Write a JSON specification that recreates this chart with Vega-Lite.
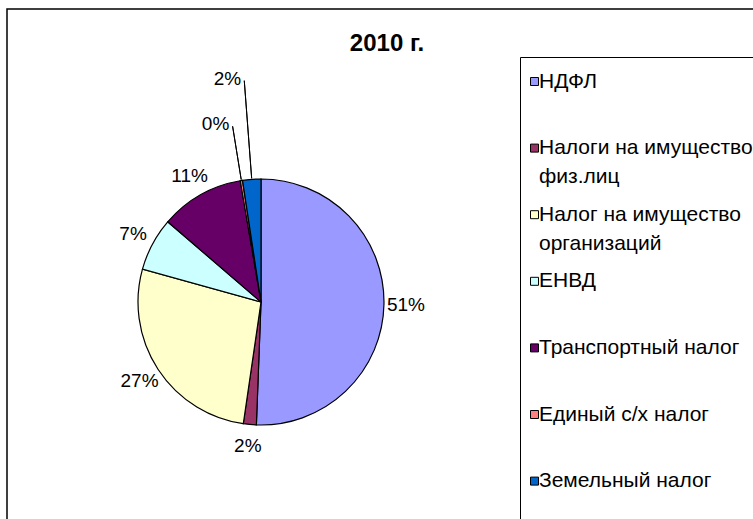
{
  "$schema": "https://vega.github.io/schema/vega-lite/v6.json",
  "width": 750,
  "height": 514,
  "autosize": {"type": "none"},
  "padding": {"left": 7, "top": 9, "right": -4, "bottom": -4},
  "background": "white",
  "view": {"stroke": "black", "strokeWidth": 1.5, "fill": "white"},
  "config": {
    "font": "Liberation Sans"
  },
  "title": {
    "text": "2010 г.",
    "font": "Liberation Sans",
    "fontSize": 24,
    "fontWeight": "bold",
    "color": "black",
    "anchor": "middle",
    "frame": "group",
    "dx": 5,
    "offset": 6,
    "dy": 53
  },
  "data": {
    "values": [
      {"n": 1, "tax": "НДФЛ", "share": 0.506},
      {"n": 2, "tax": "Налоги на имущество физ.лиц", "share": 0.017},
      {"n": 3, "tax": "Налог на имущество организаций", "share": 0.270},
      {"n": 4, "tax": "ЕНВД", "share": 0.070},
      {"n": 5, "tax": "Транспортный налог", "share": 0.110},
      {"n": 6, "tax": "Единый с/х налог", "share": 0.003},
      {"n": 7, "tax": "Земельный налог", "share": 0.024}
    ]
  },
  "encoding": {
    "theta": {"field": "share", "type": "quantitative", "stack": true},
    "order": {"field": "n", "type": "quantitative"}
  },
  "layer": [
    {
      "mark": {"type": "arc", "radius": 123, "x": 254, "y": 293, "stroke": "black", "strokeWidth": 1.2},
      "encoding": {
        "color": {
          "field": "tax",
          "type": "nominal",
          "scale": {
            "domain": ["НДФЛ", "Налоги на имущество физ.лиц", "Налог на имущество организаций", "ЕНВД", "Транспортный налог", "Единый с/х налог", "Земельный налог"],
            "range": ["#9999FF", "#993366", "#FFFFCC", "#CCFFFF", "#660066", "#FF8080", "#0066CC"]
          },
          "legend": {
            "orient": "none",
            "legendX": 513,
            "legendY": 48,
            "title": " ",
            "titleFontSize": 4,
            "titlePadding": 6,
            "strokeColor": "black",
            "padding": 4,
            "symbolType": "square",
            "symbolSize": 64,
            "symbolStrokeColor": "black",
            "symbolStrokeWidth": 1,
            "symbolOpacity": 1,
            "labelFont": "Liberation Sans",
            "labelFontSize": 21,
            "labelColor": "black",
            "labelLimit": 400,
            "labelOffset": -6,
            "rowPadding": 15.6,
            "labelBaseline": "middle",
            "labelExpr": "datum.label === 'Налоги на имущество физ.лиц' ? ['Налоги на имущество', 'физ.лиц'] : datum.label === 'Налог на имущество организаций' ? ['Налог на имущество', 'организаций'] : [datum.label, ' ']",
            "encode": {"labels": {"update": {"lineHeight": {"value": 29}}}}
          }
        }
      }
    },
    {
      "mark": {"type": "arc", "radius": 178, "radius2": 124, "padAngle": 0.2, "x": 254, "y": 293, "fill": "transparent", "stroke": "black", "strokeWidth": 1},
      "encoding": {
        "strokeOpacity": {"condition": {"test": "datum.tax === 'Единый с/х налог'", "value": 1}, "value": 0}
      }
    },
    {
      "mark": {"type": "arc", "radius": 222, "radius2": 124, "padAngle": 0.2, "x": 254, "y": 293, "fill": "transparent", "stroke": "black", "strokeWidth": 1},
      "encoding": {
        "strokeOpacity": {"condition": {"test": "datum.tax === 'Земельный налог'", "value": 1}, "value": 0}
      }
    },
    {
      "mark": {"type": "text", "radius": 145, "x": 254, "y": 293, "font": "Liberation Sans", "fontSize": 19, "color": "black"},
      "encoding": {
        "text": {"condition": {"test": "datum.tax !== 'Единый с/х налог' && datum.tax !== 'Земельный налог'", "field": "share", "type": "quantitative", "format": ".0%"}, "value": ""}
      }
    },
    {
      "mark": {"type": "text", "radius": 180, "x": 254, "y": 293, "align": "right", "dx": -3, "font": "Liberation Sans", "fontSize": 19, "color": "black"},
      "encoding": {
        "text": {"condition": {"test": "datum.tax === 'Единый с/х налог'", "field": "share", "type": "quantitative", "format": ".0%"}, "value": ""}
      }
    },
    {
      "mark": {"type": "text", "radius": 224, "x": 254, "y": 293, "align": "right", "dx": -3, "font": "Liberation Sans", "fontSize": 19, "color": "black"},
      "encoding": {
        "text": {"condition": {"test": "datum.tax === 'Земельный налог'", "field": "share", "type": "quantitative", "format": ".0%"}, "value": ""}
      }
    }
  ]
}
